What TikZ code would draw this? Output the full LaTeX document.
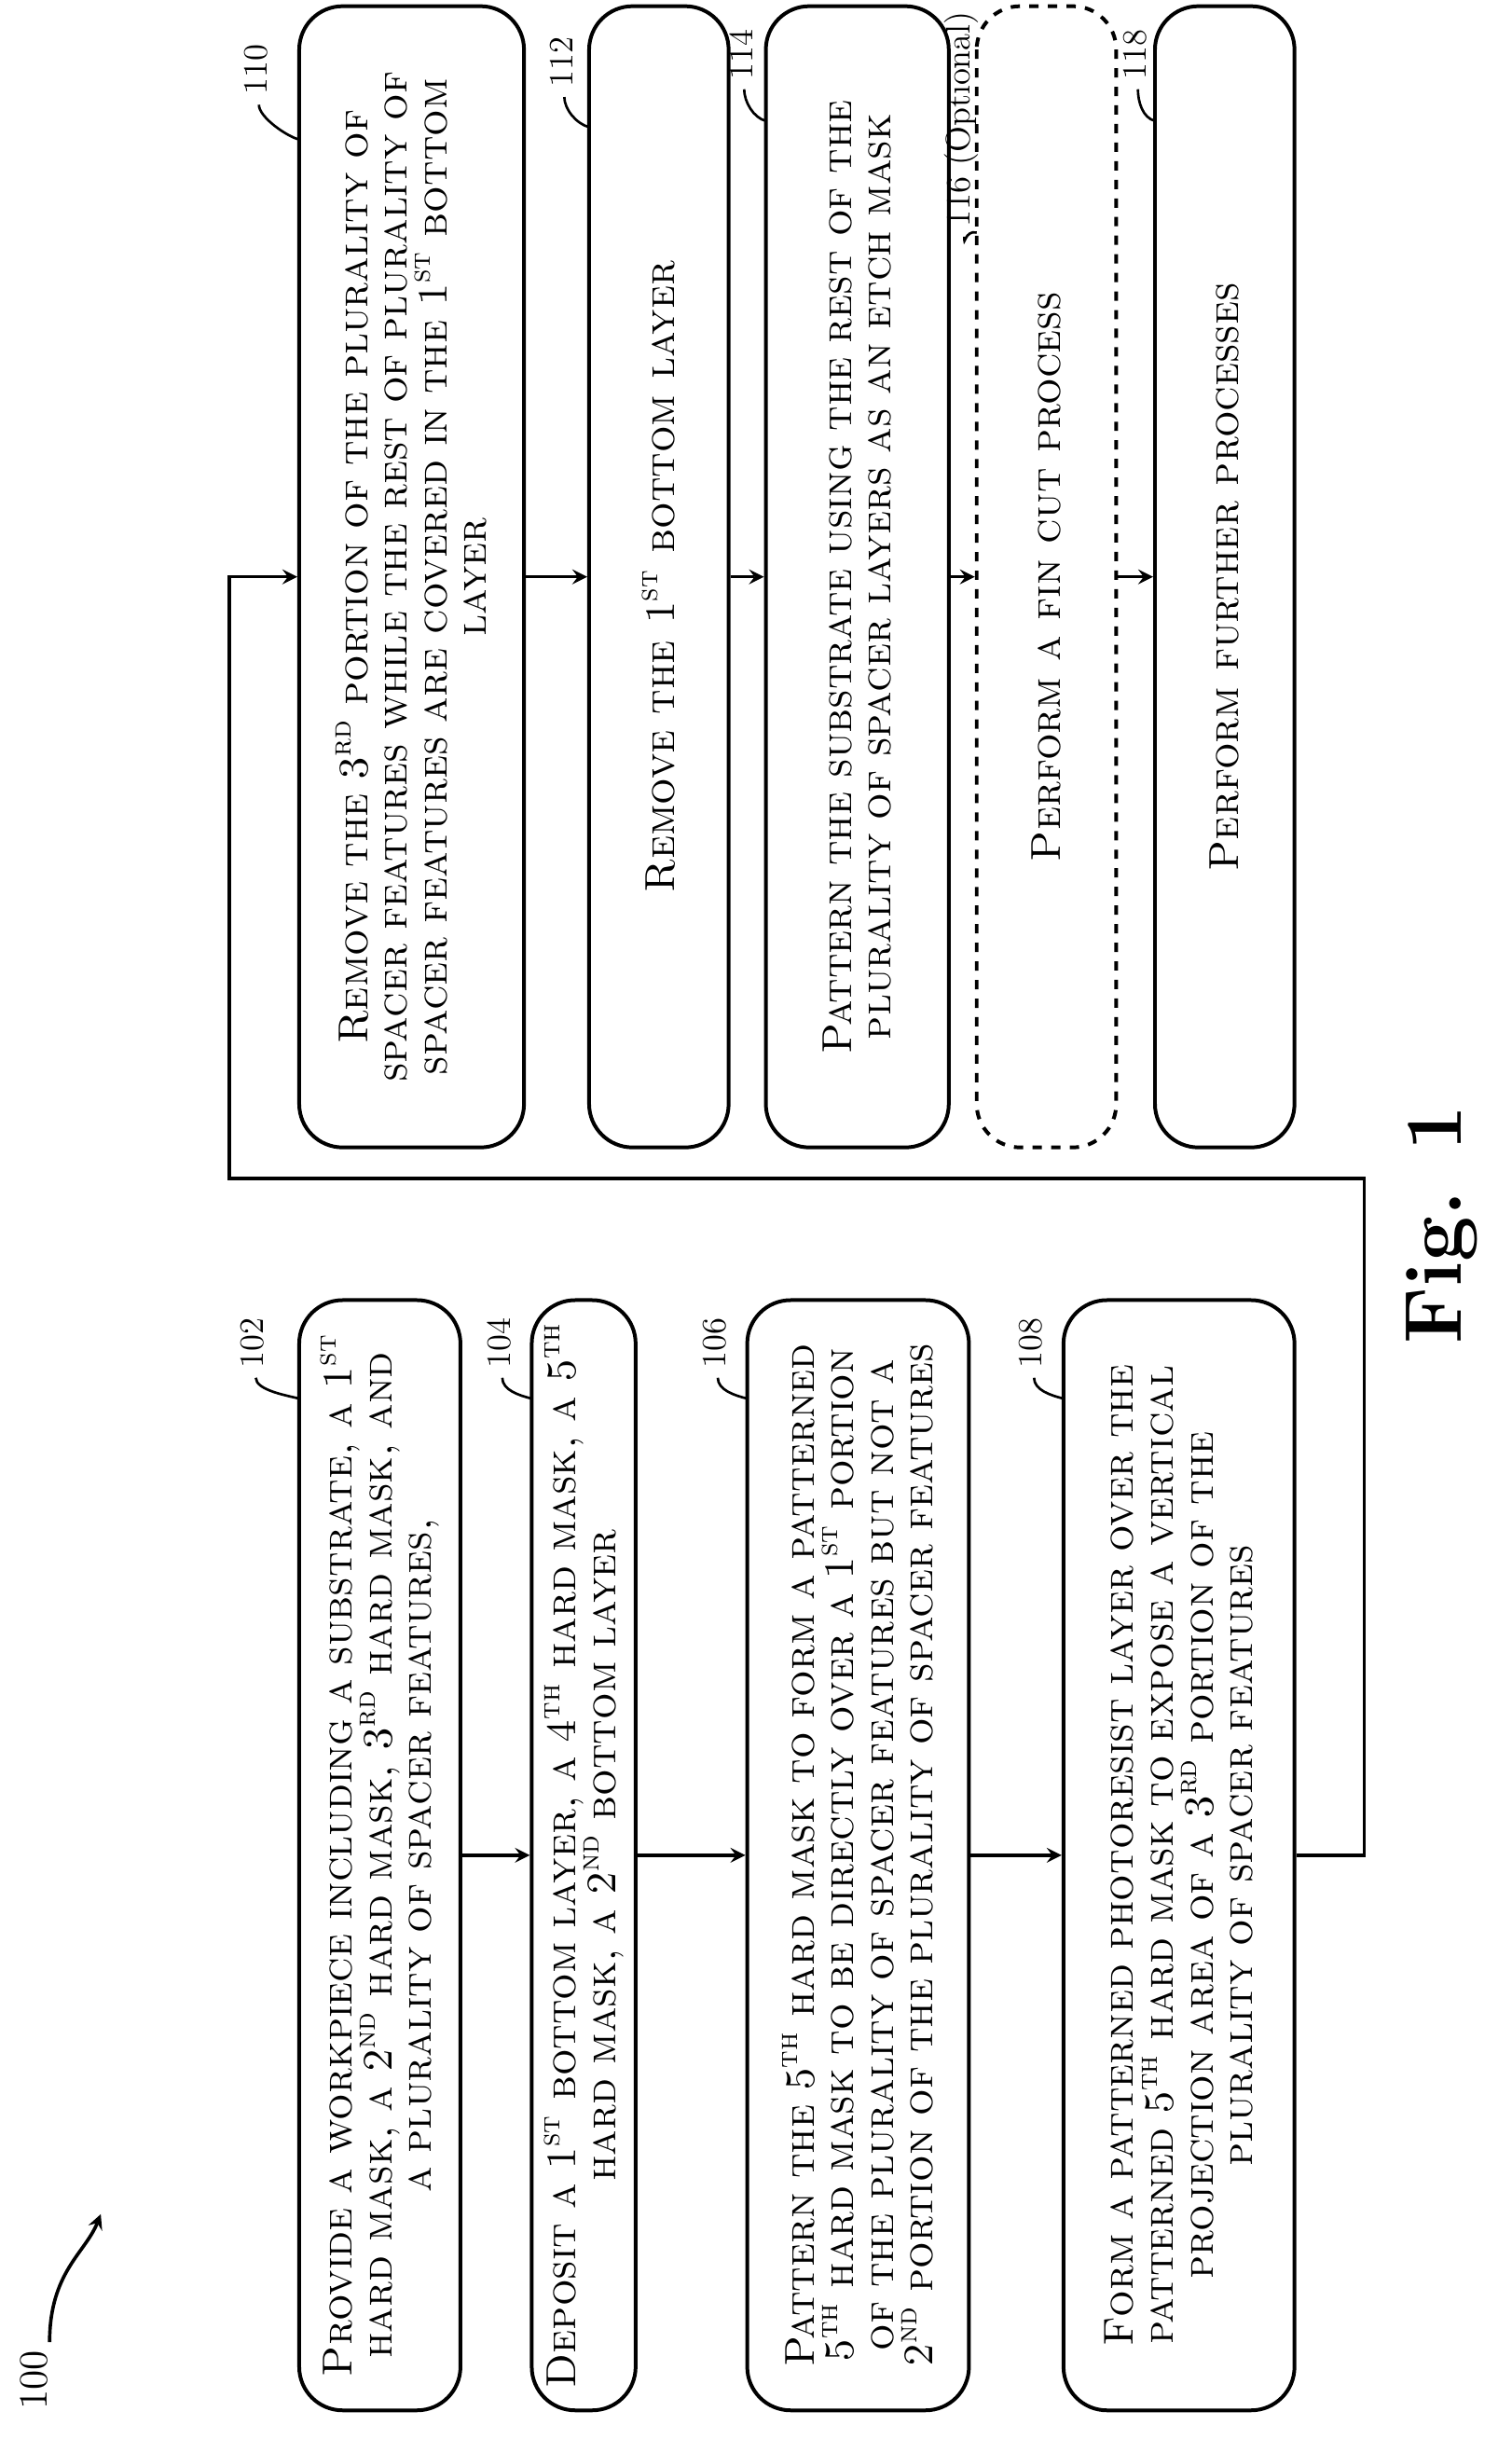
\documentclass[tikz,border=0pt]{standalone}
\usepackage{tikz}
\usetikzlibrary{positioning}
\tikzstyle{Paso}=[rectangle, rounded corners=14pt, draw=black, line width=1.2pt, rotate=90, align=center, font=\fontsize{13.5}{12.8}\selectfont\scshape, inner sep=3pt]
\tikzstyle{PasoOpc}=[Paso, dashed]
\tikzstyle{Etiqueta}=[rotate=90, font=\fontsize{11}{12}\selectfont, inner sep=1pt]
\tikzstyle{Flecha}=[-stealth, line width=1.1pt]
\newcommand{\up}[1]{\textsuperscript{#1}}
\begin{document}
\begin{tikzpicture}[x=0.5pt, y=-0.5pt]
			\useasboundingbox (0,0) rectangle (975,1573);
			%Nodos columna izquierda
			\node[Paso, minimum width=358pt, minimum height=52pt, text width=348pt]	(p102) at (245,1196.5)	{Provide a workpiece including a substrate, a 1\up{st}\\ hard mask, a 2\up{nd} hard mask, 3\up{rd} hard mask, and\\ a plurality of spacer features,};
			\node[Paso, minimum width=358pt, minimum height=33.5pt, text width=348pt]	(p104) at (376.5,1196.5)	{Deposit a 1\up{st} bottom layer, a 4\up{th} hard mask, a 5\up{th}\\ hard mask, a 2\up{nd} bottom layer};
			\node[Paso, minimum width=358pt, minimum height=71.5pt, text width=348pt]	(p106) at (553.5,1196.5)	{Pattern the 5\up{th} hard mask to form a patterned\\ 5\up{th} hard mask to be directly over a 1\up{st} portion\\ of the plurality of spacer features but not a\\ 2\up{nd} portion of the plurality of spacer features};
			\node[Paso, minimum width=358pt, minimum height=74.5pt, text width=348pt]	(p108) at (760.5,1196.5)	{Form a patterned photoresist layer over the\\ patterned 5\up{th} hard mask to expose a vertical\\ projection area of a 3\up{rd} portion of the\\ plurality of spacer features};
			%Nodos columna derecha
			\node[Paso, minimum width=368pt, minimum height=72.5pt, text width=355pt]	(p110) at (265.5,372)	{Remove the 3\up{rd} portion of the plurality of\\ spacer features while the rest of plurality of\\ spacer features are covered in the 1\up{st} bottom\\ layer};
			\node[Paso, minimum width=368pt, minimum height=45pt]	(p112) at (425,372)	{Remove the 1\up{st} bottom layer};
			\node[Paso, minimum width=368pt, minimum height=59pt, text width=355pt]	(p114) at (553,372)	{Pattern the substrate using the rest of the\\ plurality of spacer layers as an etch mask};
			\node[PasoOpc, minimum width=368pt, minimum height=45pt]	(p116) at (675,372)	{Perform a fin cut process};
			\node[Paso, minimum width=368pt, minimum height=45pt]	(p118) at (790,372)	{Perform further processes};

			%Etiquetas
			\node[Etiqueta]	(l102) at (163,866)	{102};
			\node[Etiqueta]	(l104) at (322,866)	{104};
			\node[Etiqueta]	(l106) at (461,866)	{106};
			\node[Etiqueta]	(l108) at (665,866)	{108};
			\node[Etiqueta]	(l110) at (165,45)	{110};
			\node[Etiqueta]	(l112) at (362,40)	{112};
			\node[Etiqueta]	(l114) at (478,35)	{114};
			\node[Etiqueta, anchor=east]	(l116) at (620,5)	{116 (Optional)};
			\node[Etiqueta]	(l118) at (732,35)	{118};
			\foreach \n/\x/\y in {102/193/902, 104/343/902, 106/482/902, 108/686/902, 110/193/90, 112/380/82, 114/494/78, 116/630/150, 118/745/78}
				\draw[line width=0.8pt] (l\n.west) ++(2,4) .. controls +(0,8) and +(-8,-2) .. (\x,\y);
			\node[Etiqueta, font=\fontsize{13}{14}\selectfont]	(l100) at (22,1535)	{100};
			\draw[Flecha] (l100.east) ++(10,-3) .. controls +(0,-45) and +(-10,25) .. (65,1428);
			\node[rotate=90, font=\bfseries\fontsize{26}{28}\selectfont]	(fig) at (930,790)	{Fig. 1};

			%Lineas
			\draw[Flecha] (p102.south) -- (p104.north);
			\draw[Flecha] (p104.south) -- (p106.north);
			\draw[Flecha] (p106.south) -- (p108.north);
			\coordinate (tA) at (880,760);
			\coordinate (tB) at (148,760);
			\draw[Flecha] (p108.south) -- (p108.south -| tA) -- (tA) -- (tB) -- (tB |- p110.north) -- (p110.north);
			\draw[Flecha] (p110.south) -- (p112.north);
			\draw[Flecha] (p112.south) -- (p114.north);
			\draw[Flecha] (p114.south) -- (p116.north);
			\draw[Flecha] (p116.south) -- (p118.north);
		\end{tikzpicture}
\end{document}
